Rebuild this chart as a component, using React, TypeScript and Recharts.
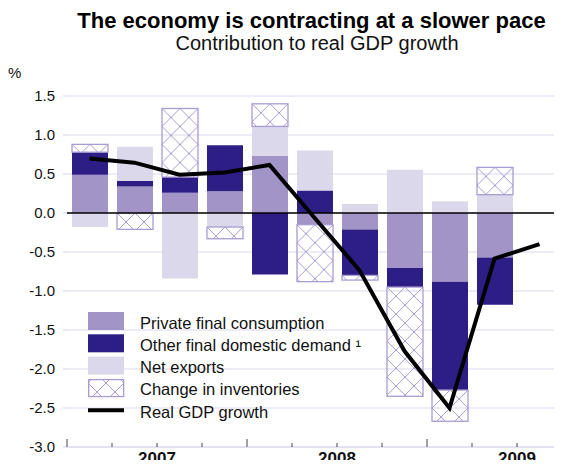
import { ComposedChart, Bar, Line, XAxis, YAxis, CartesianGrid, ReferenceLine, Legend } from 'recharts';

// quarterly contributions to real GDP growth, %
const quarters = ['2007Q1', '2007Q2', '2007Q3', '2007Q4', '2008Q1', '2008Q2', '2008Q3', '2008Q4', '2009Q1', '2009Q2', '2009Q3'];
const privateConsumption = [0.49, 0.34, 0.26, 0.28, 0.73, -0.15, -0.21, -0.705, -0.88, -0.57, null];
const otherDomesticDemand = [0.29, 0.07, 0.2, 0.59, -0.79, 0.29, -0.59, -0.245, -1.39, -0.605, null];
const netExports = [-0.18, 0.44, -0.84, -0.18, 0.38, 0.51, 0.115, 0.555, 0.15, 0.235, null];
const inventories = [0.1, -0.21, 0.88, -0.15, 0.29, -0.73, -0.06, -1.4, -0.4, 0.35, null];
const gdpGrowth = [0.7, 0.645, 0.49, 0.52, 0.615, -0.06, -0.735, -1.77, -2.5, -0.585, -0.4];
const yTicks = [1.5, 1, 0.5, 0, -0.5, -1, -1.5, -2, -2.5, -3];

const legendItems = [
  { label: 'Private final consumption', kind: 'pfc' },
  { label: 'Other final domestic demand ¹', kind: 'odd' },
  { label: 'Net exports', kind: 'nx' },
  { label: 'Change in inventories', kind: 'inv' },
  { label: 'Real GDP growth', kind: 'line' },
];

const PFC = '#a294c6';
const ODD = '#2d1e86';
const NX = '#dcd8ec';
const HATCH = '#a99cd1';
const GRID = '#dcd8ee';

const WIDTH = 562;
const HEIGHT = 468;
const LEFT = 67;
const BAND = (WIDTH - LEFT) / quarters.length;

const data = quarters.map((q, i) => ({
  q,
  pfc: privateConsumption[i],
  odd: otherDomesticDemand[i],
  nx: netExports[i],
  inv: inventories[i],
  gdp: gdpGrowth[i],
}));

function HatchBar(props: any) {
  const { x, y, width, height, index } = props;
  if (!height || !width) return null;
  const top = height < 0 ? y + height : y;
  const h = Math.abs(height);
  const d = width / 2;
  const id = `hatch-${index}`;
  return (
    <g>
      <defs>
        <pattern id={id} patternUnits="userSpaceOnUse" x={x} y={top} width={d} height={d}>
          <path d={`M0,0L${d},${d}M${d},0L0,${d}`} stroke={HATCH} strokeWidth={1} />
        </pattern>
      </defs>
      <rect x={x} y={top} width={width} height={h} fill={`url(#${id})`} stroke={HATCH} strokeWidth={1.3} />
    </g>
  );
}

// quarter boundary ticks, longer at year start, year label centred on the year
function QuarterTick(props: any) {
  const { x, y, index } = props;
  const q = quarters[index];
  const left = x - BAND / 2;
  const major = q.endsWith('Q1');
  return (
    <g>
      <line x1={left} x2={left} y1={y} y2={y - (major ? 8 : 4)} stroke="#444" strokeWidth={1} />
      {q.endsWith('Q3') && (
        <text x={left} y={y + 16.5} textAnchor="middle" fontWeight="bold" fontSize={17} fill="#111">
          {q.slice(0, 4)}
        </text>
      )}
    </g>
  );
}

function LegendBox() {
  return (
    <svg width={320} height={112}>
      <defs>
        <pattern id="hatch-legend" patternUnits="userSpaceOnUse" x={0} y={0} width={18} height={18}>
          <path d="M0,0L18,18M18,0L0,18" stroke={HATCH} strokeWidth={1} />
        </pattern>
      </defs>
      {legendItems.map((item, i) => {
        const top = 1 + i * 22.3;
        let swatch;
        if (item.kind === 'line') {
          swatch = <line x1={0} x2={36} y1={top + 9} y2={top + 9} stroke="#000" strokeWidth={4} />;
        } else if (item.kind === 'inv') {
          swatch = <rect x={0.65} y={top + 0.65} width={35} height={17} fill="url(#hatch-legend)" stroke={HATCH} strokeWidth={1.3} />;
        } else {
          const fill = item.kind === 'pfc' ? PFC : item.kind === 'odd' ? ODD : NX;
          swatch = <rect x={0} y={top} width={36} height={18} fill={fill} />;
        }
        return (
          <g key={item.label}>
            {swatch}
            <text x={52} y={top + 16.5} fontSize={16.5} fill="#111">
              {item.label}
            </text>
          </g>
        );
      })}
    </svg>
  );
}

export default function App() {
  // the page keeps its 8px body margin; content is shifted back to the window corner
  return (
    <div
      style={{
        position: 'relative',
        width: WIDTH - 16,
        height: HEIGHT - 8,
        marginBottom: -8,
        fontFamily: '"Liberation Sans", Arial, sans-serif',
      }}
    >
      <svg width={WIDTH} height={90} style={{ position: 'absolute', left: -8, top: -8 }}>
        <text x={311.5} y={28} textAnchor="middle" fontWeight="bold" fontSize={22} fill="#000">
          The economy is contracting at a slower pace
        </text>
        <text x={317} y={50} textAnchor="middle" fontSize={20} fill="#111">
          Contribution to real GDP growth
        </text>
        <text x={8} y={78} fontSize={15} fill="#111">
          %
        </text>
      </svg>
      <div style={{ position: 'absolute', left: -8, top: -8 }}>
        <ComposedChart
          width={WIDTH}
          height={HEIGHT}
          data={data}
          stackOffset="sign"
          margin={{ top: 96, right: 0, bottom: 1, left: 0 }}
        >
          <CartesianGrid horizontal vertical={false} stroke={GRID} strokeWidth={1.2} />
          <XAxis
            dataKey="q"
            interval={0}
            height={20}
            tickLine={false}
            tickSize={0}
            tickMargin={0}
            axisLine={{ stroke: GRID, strokeWidth: 1.2 }}
            tick={QuarterTick}
          />
          <YAxis
            domain={[-3, 1.5]}
            ticks={yTicks}
            width={LEFT}
            axisLine={false}
            tickLine={{ stroke: GRID, strokeWidth: 1.2 }}
            tickSize={4}
            tickMargin={8}
            tick={{ fontSize: 15, fill: '#111' }}
            tickFormatter={(v: number) => v.toFixed(1)}
          />
          <Bar dataKey="pfc" stackId="a" fill={PFC} barSize={36} isAnimationActive={false} />
          <Bar dataKey="odd" stackId="a" fill={ODD} barSize={36} isAnimationActive={false} />
          <Bar dataKey="nx" stackId="a" fill={NX} barSize={36} isAnimationActive={false} />
          <Bar dataKey="inv" stackId="a" shape={HatchBar} barSize={36} isAnimationActive={false} />
          <ReferenceLine y={0} stroke="#000" strokeWidth={1.3} />
          <Line
            dataKey="gdp"
            type="linear"
            stroke="#000"
            strokeWidth={4}
            dot={false}
            activeDot={false}
            isAnimationActive={false}
          />
          <Legend
            verticalAlign="middle"
            align="center"
            layout="horizontal"
            wrapperStyle={{ left: 88, top: 311, width: 320, height: 112 }}
            content={LegendBox}
          />
        </ComposedChart>
      </div>
    </div>
  );
}
